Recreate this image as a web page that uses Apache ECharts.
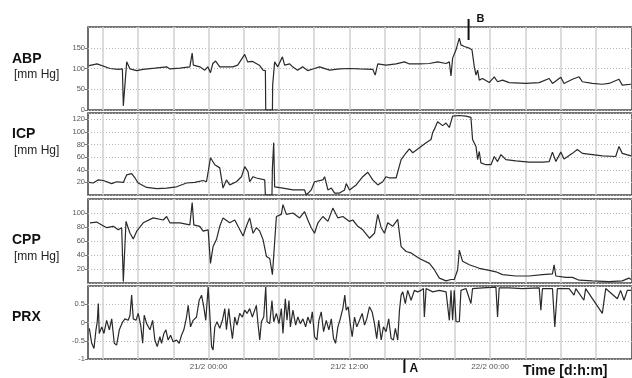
<!DOCTYPE html>
<html>
<head>
<meta charset="utf-8">
<script src="https://cdn.jsdelivr.net/npm/echarts@6/dist/echarts.min.js"></script>
<style>
  html, body { margin: 0; padding: 0; background: #fff; }
  #chart { width: 632px; height: 378px; }
</style>
</head>
<body>
<div id="chart"></div>
<script>
// Time is in hours counted from 20/2 00:00; each pair is [hour, value].
const abp = [
  [13.81,107],[14.49,111],[15.59,100],[16.28,98],[16.65,99],[16.73,10],[17.02,116],[17.30,99],
  [17.87,95],[18.40,98],[19.42,101],[20.42,104],[20.70,99],[21.55,101],[22.40,104],[22.60,137],
  [22.70,108],[23.25,104],[23.68,96],[23.93,104],[24.16,90],[24.36,112],[24.60,118],[24.95,104],
  [26.06,104],[26.48,108],[27.08,134],[27.33,116],[27.76,117],[28.36,107],[28.64,96],[28.84,95],
  [28.87,0],[29.44,0],[29.46,60],[29.63,116],[29.89,104],[30.29,128],[30.48,108],[30.91,111],
  [31.16,104],[31.59,96],[32.01,104],[32.44,95],[33.03,100],[33.46,104],[34.31,96],[35.16,99],
  [36.01,100],[36.86,99],[37.99,98],[38.20,84],[38.42,111],[39.13,108],[39.98,111],[40.69,116],
  [41.12,111],[41.97,111],[42.82,112],[43.52,116],[44.24,112],[44.52,116],[44.66,82],[44.80,125],
  [45.09,145],[45.37,173],[45.51,157],[45.80,153],[46.22,149],[46.45,145],[46.65,104],[46.79,84],
  [46.93,96],[47.07,72],[47.35,76],[47.92,66],[48.35,80],[48.63,68],[49.05,72],[49.62,66],
  [51.04,64],[52.18,66],[53.03,76],[53.31,64],[54.02,79],[54.30,64],[55.01,74],[55.58,80],
  [55.86,68],[56.71,64],[57.56,62],[58.13,64],[58.98,74],[59.26,60],[60.0,62]
];
const icp = [
  [13.81,20],[14.17,19],[14.60,24],[15.02,23],[15.74,18],[16.16,21],[16.73,20],[17.02,32],
  [17.44,34],[17.72,27],[18.00,19],[18.72,12],[19.57,10],[20.42,11],[21.27,13],[22.12,19],
  [22.83,20],[23.53,23],[23.82,21],[24.16,59],[24.53,48],[24.95,43],[25.23,11],[25.52,24],
  [25.80,16],[26.37,21],[26.80,29],[27.08,45],[27.36,37],[27.50,21],[27.79,29],[28.07,27],
  [28.78,24],[28.84,0],[29.40,0],[29.44,43],[29.55,83],[29.63,13],[29.78,16],[30.34,11],
  [31.19,8],[32.18,8],[32.33,0],[32.75,8],[33.03,21],[33.74,24],[33.89,29],[34.17,8],
  [34.46,11],[34.74,3],[35.16,3],[35.59,8],[35.73,18],[36.01,8],[36.58,16],[37.14,29],
  [37.57,36],[37.99,24],[38.42,16],[38.84,21],[39.13,29],[39.41,27],[39.98,27],[40.12,24],
  [40.41,56],[40.84,67],[41.12,73],[41.40,67],[41.97,75],[42.54,83],[42.96,88],[43.10,99],
  [43.24,104],[43.52,116],[43.95,110],[44.24,114],[44.52,107],[44.80,125],[45.37,126],[45.94,125],
  [46.36,123],[46.50,88],[46.79,77],[46.93,56],[47.07,69],[47.21,51],[47.64,48],[48.07,48],
  [48.35,61],[48.63,53],[48.92,64],[49.34,56],[50.19,54],[51.32,52],[52.46,52],[53.03,53],
  [53.31,68],[53.60,53],[54.02,68],[54.30,57],[55.01,66],[55.43,72],[55.86,66],[56.71,64],
  [57.56,62],[58.70,61],[58.98,77],[59.26,66],[60.0,62]
];
const cpp = [
  [13.89,86],[14.46,87],[14.89,83],[15.31,79],[15.88,81],[16.30,76],[16.59,79],[16.73,2],
  [16.96,88],[17.30,71],[17.58,63],[17.87,74],[18.43,86],[19.28,93],[20.13,90],[20.42,95],
  [20.70,86],[21.55,86],[22.40,83],[22.60,115],[22.74,83],[23.25,81],[23.53,74],[23.96,76],
  [24.16,28],[24.38,52],[24.67,62],[24.95,81],[25.23,93],[25.80,86],[26.23,90],[26.51,81],
  [26.94,67],[27.22,81],[27.50,93],[27.79,71],[28.07,79],[28.36,74],[28.64,62],[28.93,38],
  [29.21,35],[29.44,12],[29.78,95],[30.20,98],[30.34,112],[30.63,98],[31.19,100],[31.76,93],
  [32.18,102],[32.46,90],[32.75,79],[33.03,71],[33.32,86],[33.74,95],[34.17,88],[34.59,107],
  [35.02,93],[35.44,95],[36.01,88],[36.29,90],[36.72,81],[37.14,76],[37.71,64],[38.14,71],
  [38.42,98],[38.71,79],[38.99,71],[39.27,86],[39.69,81],[40.12,91],[40.41,52],[40.84,45],
  [41.26,43],[41.97,35],[42.82,28],[43.24,19],[43.67,7],[44.24,3],[44.66,5],[44.94,5],
  [45.23,19],[45.37,47],[45.65,31],[46.22,26],[47.07,21],[47.92,18],[48.49,16],[49.05,12],
  [50.19,10],[51.32,10],[52.46,12],[53.31,13],[53.45,26],[53.60,10],[54.45,8],[55.01,8],
  [55.58,4],[56.71,3],[58.13,2],[59.26,3],[59.83,7],[60.0,5]
];
const prx = [
  [13.83,-0.16],[14.04,-0.57],[14.23,-0.71],[14.40,-0.2],[14.51,0.02],[14.60,0.52],[14.68,-0.3],[14.89,-0.12],
  [15.08,-0.3],[15.31,0.06],[15.54,-0.2],[15.74,0.1],[15.96,-0.57],[16.16,-0.62],[16.39,-0.2],[16.68,0.02],
  [16.87,0.1],[17.15,0.06],[17.30,0.2],[17.44,0.75],[17.58,0.1],[17.81,0.06],[18.00,0.25],[18.21,-0.07],
  [18.38,-0.57],[18.51,0.2],[18.72,-0.03],[19.00,-0.2],[19.23,0.06],[19.42,-0.48],[19.62,-0.66],[19.85,-0.39],
  [19.99,-0.57],[20.19,-0.3],[20.36,-0.2],[20.55,-0.48],[20.76,-0.35],[20.98,-0.53],[21.27,-0.48],[21.49,-0.57],
  [21.69,-0.35],[21.89,-0.2],[22.12,0.15],[22.26,0.47],[22.46,-0.12],[22.68,0.06],[22.97,0.15],[23.19,0.6],
  [23.40,0.75],[23.59,0.43],[23.76,0.06],[23.96,0.97],[24.10,0.25],[24.25,-0.66],[24.38,-0.75],[24.53,-0.12],
  [24.72,0.02],[24.95,-0.16],[25.18,0.06],[25.38,0.38],[25.52,-0.2],[25.72,0.38],[25.86,-0.03],[26.03,-0.44],
  [26.23,0.15],[26.42,-0.07],[26.65,0.25],[26.88,0.15],[27.08,0.34],[27.28,0.25],[27.50,0.38],[27.73,0.15],
  [27.93,0.34],[28.07,0.47],[28.21,-0.03],[28.36,-0.48],[28.50,0.02],[28.70,0.15],[28.87,0.97],[28.98,0.02],
  [29.21,-0.03],[29.40,0.6],[29.55,0.02],[29.78,0.25],[30.00,-0.03],[30.20,0.38],[30.34,-0.3],[30.54,0.65],
  [30.68,0.06],[30.85,0.6],[30.97,-0.12],[31.19,0.34],[31.42,-0.07],[31.61,0.15],[31.82,-0.03],[32.04,0.1],
  [32.27,-0.12],[32.46,0.15],[32.67,-0.03],[32.84,0.29],[33.03,-0.39],[33.23,-0.48],[33.40,0.06],[33.60,0.29],
  [33.80,-0.25],[34.03,0.06],[34.25,-0.2],[34.46,0.1],[34.65,-0.44],[34.82,-0.57],[35.02,-0.12],[35.22,0.1],
  [35.44,0.38],[35.61,0.75],[35.73,0.34],[35.90,0.43],[36.07,-0.03],[36.24,-0.39],[36.44,0.15],[36.63,-0.12],
  [36.86,0.06],[37.09,0.25],[37.29,-0.07],[37.48,0.1],[37.71,0.43],[37.94,0.29],[38.14,-0.03],[38.33,-0.44],
  [38.50,0.06],[38.71,-0.48],[38.90,-0.12],[39.13,-0.25],[39.35,0.1],[39.56,-0.44],[39.75,-0.48],[39.92,-0.16],
  [40.12,-0.48],[40.27,0.34],[40.41,0.75],[40.55,0.84],[40.77,0.52],[40.97,0.88],[41.26,0.61],[41.54,0.88],
  [41.82,0.84],[42.11,0.88],[42.31,0.93],[42.39,0.15],[42.54,0.93],[43.10,0.84],[43.67,0.88],[44.24,0.84],
  [44.52,0.06],[44.66,0.88],[44.80,0.06],[44.94,0.88],[45.09,0.02],[45.37,0.02],[45.51,0.88],[45.94,0.93],
  [46.36,0.52],[46.50,0.93],[47.35,0.95],[48.49,0.97],[48.63,0.15],[48.77,0.95],[49.62,0.95],[50.75,0.93],
  [52.18,0.95],[52.32,0.34],[52.46,0.93],[53.31,0.93],[53.51,-0.12],[53.73,0.93],[54.73,0.93],[55.15,0.75],
  [55.30,0.93],[55.99,0.61],[56.14,0.93],[57.56,0.25],[57.85,0.93],[58.84,0.65],[59.12,0.88],[59.41,0.61],
  [59.69,0.88],[60.0,0.88]
];

// Vertical grid every 3 hours, date labels every 12 hours
const gridHours = [15,18,21,24,27,30,33,36,39,42,45,48,51,54,57];
const timeTicks = [24, 36, 48];
const timeLabels = ['21/2 00:00', '21/2 12:00', '22/2 00:00'];

// Event markers
const events = [
  { name: 'A', hour: 40.69 },
  { name: 'B', hour: 46.16 }
];

const panelNames = ['ABP', 'ICP', 'CPP', 'PRX'];
const panelUnits = ['[mm Hg]', '[mm Hg]', '[mm Hg]', ''];
const panelSeries = [abp, icp, cpp, prx];
const yRanges = [[0, 200, 50], [0, 130, 20], [0, 120, 20], [-1, 1, 0.5]];
const hideMinLabel = [false, true, true, false];

const X_MIN = 13.72, X_MAX = 60.09;
const layout = [
  { top: 27, height: 83 },
  { top: 113, height: 82 },
  { top: 199, height: 84 },
  { top: 286, height: 73 }
];

const FONT = '"Liberation Sans", Arial, Helvetica, sans-serif';
const chart = echarts.init(document.getElementById('chart'), null, { renderer: 'canvas' });

const grids = layout.map(l => ({
  left: 88, width: 545, top: l.top, height: l.height,
  show: true, borderColor: '#4a4a4a', borderWidth: 1.6, backgroundColor: '#fff'
}));

const xAxes = layout.map((l, i) => ({
  type: 'value', gridIndex: i, min: X_MIN, max: X_MAX,
  axisLine: { show: false },
  axisTick: { show: false, customValues: gridHours },
  splitLine: { show: true, lineStyle: { color: '#d2d2d2', width: 1.6, type: 'solid' } },
  axisLabel: i === 3 ? {
    show: true, customValues: timeTicks, margin: 4,
    fontFamily: FONT, fontSize: 8, color: '#555',
    formatter: v => timeLabels[timeTicks.indexOf(Math.round(v))] || ''
  } : { show: false }
}));

const yAxes = yRanges.map((r, i) => ({
  type: 'value', gridIndex: i, min: r[0], max: r[1], interval: r[2],
  axisLine: { show: false },
  axisTick: { show: true, length: 3, lineStyle: { color: '#777', width: 1 } },
  splitLine: { show: true, lineStyle: { color: '#b5b5b5', width: 1, type: [1, 2] } },
  axisLabel: {
    show: true, margin: 3, fontFamily: FONT, fontSize: 7.5, color: '#555',
    showMaxLabel: false, showMinLabel: !hideMinLabel[i],
    formatter: v => String(v)
  }
}));

const series = panelSeries.map((d, i) => ({
  type: 'line', xAxisIndex: i, yAxisIndex: i, data: d,
  showSymbol: false, symbol: 'none', clip: true, z: 5,
  lineStyle: { color: '#2a2a2a', width: 1.2 },
  animation: false, silent: true
}));

const labelTops = [60, 135.5, 241.5, 318.5];
const graphics = [];
panelNames.forEach((n, i) => {
  graphics.push({
    type: 'text', left: 12, top: labelTops[i] - 8,
    style: { text: n, font: 'bold 14px ' + FONT, fill: '#111' }
  });
  if (panelUnits[i]) {
    graphics.push({
      type: 'text', left: 14, top: labelTops[i] + 9,
      style: { text: panelUnits[i], font: '12px ' + FONT, fill: '#222' }
    });
  }
});
graphics.push({
  type: 'text', left: 523, top: 364,
  style: { text: 'Time [d:h:m]', font: 'bold 14px ' + FONT, fill: '#111' }
});

chart.setOption({
  backgroundColor: '#fff',
  animation: false,
  grid: grids,
  xAxis: xAxes,
  yAxis: yAxes,
  series: series,
  graphic: graphics
});

// Event markers placed from their time on the axis scale
const markerGraphics = [];
events.forEach(ev => {
  if (ev.name === 'A') {
    const x = chart.convertToPixel({ xAxisIndex: 3 }, ev.hour);
    const y = chart.convertToPixel({ yAxisIndex: 3 }, -1);
    markerGraphics.push({ type: 'rect', shape: { x: x - 1, y: y, width: 2, height: 14 }, style: { fill: '#111' } });
    markerGraphics.push({ type: 'text', x: x + 5, y: y + 4, style: { text: ev.name, font: 'bold 12px ' + FONT, fill: '#111' } });
  } else {
    const x = chart.convertToPixel({ xAxisIndex: 0 }, ev.hour);
    const y = chart.convertToPixel({ yAxisIndex: 0 }, 200);
    markerGraphics.push({ type: 'rect', z: 10, shape: { x: x - 1, y: y - 8, width: 2, height: 21 }, style: { fill: '#111' } });
    markerGraphics.push({ type: 'text', x: x + 8, y: y - 14, style: { text: ev.name, font: 'bold 11px ' + FONT, fill: '#111' } });
  }
});
chart.setOption({ graphic: graphics.concat(markerGraphics) });
</script>
</body>
</html>
